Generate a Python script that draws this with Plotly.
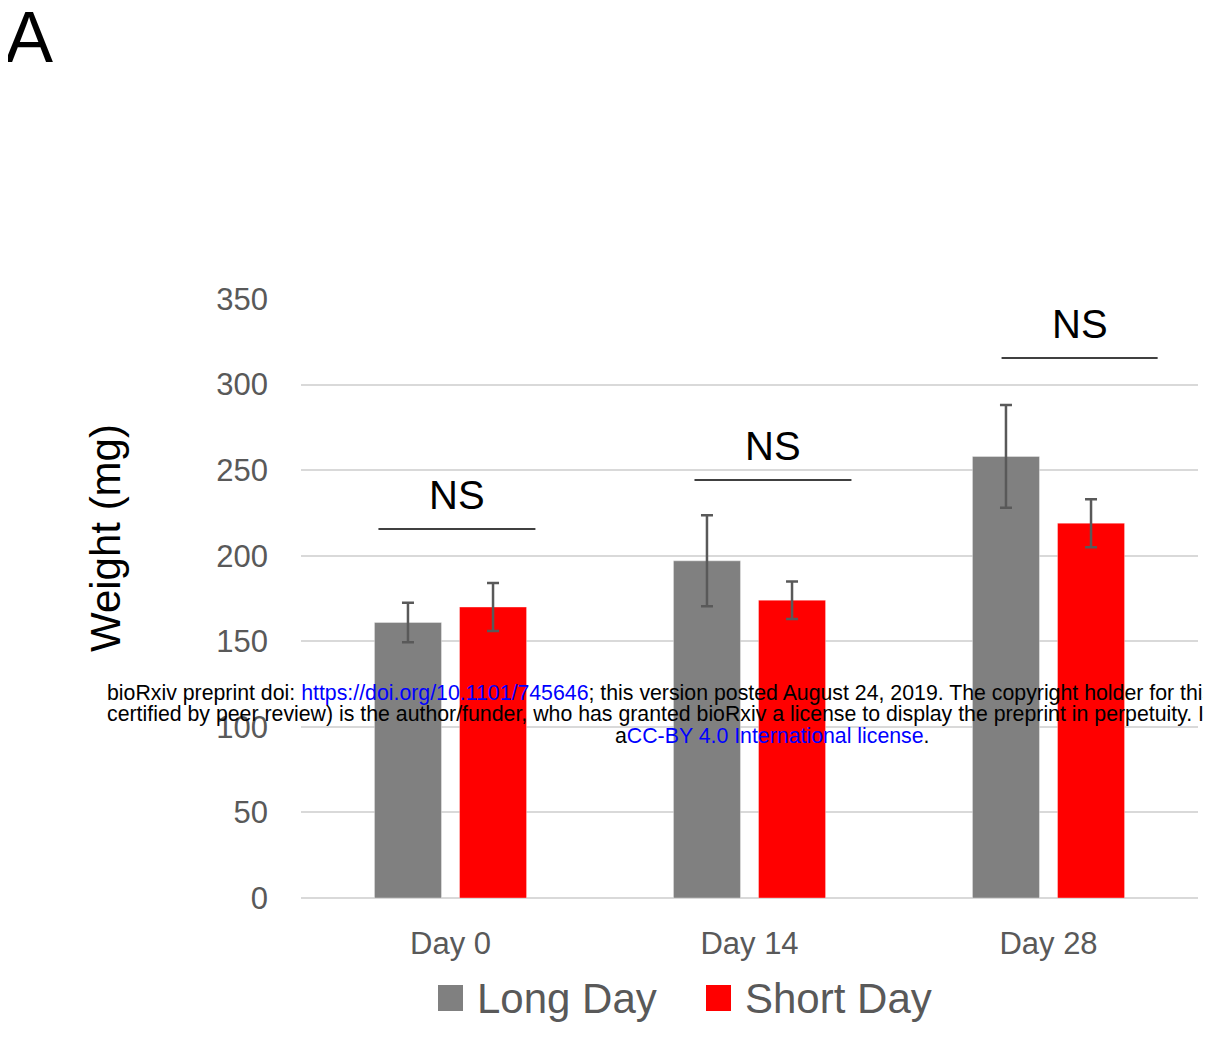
import plotly.graph_objects as go

categories = ["Day 0", "Day 14", "Day 28"]
long_day = [161, 197, 258]
long_day_err = [11.5, 26.6, 30]
short_day = [170, 174, 219]
short_day_err = [14, 11, 14]

# significance markers: (label, line y, x start, x end) in category units
sig_labels = ["NS", "NS", "NS"]
sig_line_y = [215.6, 244.2, 315.5]
sig_x0 = [-0.241, 0.816, 1.843]
sig_x1 = [0.284, 1.341, 2.365]

GRAY = "#808080"
RED = "#FF0000"
TXT = "#595959"
FONT = "Liberation Sans, Arial, sans-serif"

fig = go.Figure()
fig.add_trace(go.Bar(
    x=categories, y=long_day, name="Long Day",
    marker=dict(color=GRAY, line=dict(color="rgba(255,255,255,0.35)", width=1)),
    error_y=dict(type="data", array=long_day_err, visible=True,
                 color=TXT, thickness=2.5, width=6),
    showlegend=False,
))
fig.add_trace(go.Bar(
    x=categories, y=short_day, name="Short Day",
    marker=dict(color=RED, line=dict(color="rgba(255,255,255,0.35)", width=1)),
    error_y=dict(type="data", array=short_day_err, visible=True,
                 color=TXT, thickness=2.5, width=6),
    showlegend=False,
))

shapes = []
annotations = []
for lab, ly, x0, x1 in zip(sig_labels, sig_line_y, sig_x0, sig_x1):
    shapes.append(dict(type="line", xref="x", yref="y", x0=x0, x1=x1, y0=ly, y1=ly,
                       line=dict(color="black", width=1.5)))
    annotations.append(dict(xref="x", yref="y", x=(x0 + x1) / 2, y=ly, yshift=10,
                            text=lab, showarrow=False, xanchor="center", yanchor="bottom",
                            font=dict(family=FONT, size=40, color="black")))

# Page body has an 8px margin: work in window pixels and convert.
OFF = 8
W, H = 1195, 1021
L, T = 301 - OFF, 299 - OFF
R = W - (1198 - OFF)
B = H - (898 - OFF)
pw, ph = W - L - R, H - T - B


def px(xp):
    return (xp - OFF - L) / pw


def py(yp):
    return (H - B - (yp - OFF)) / ph


legend_items = [("Long Day", GRAY, 438), ("Short Day", RED, 706)]
for name, col, x0 in legend_items:
    shapes.append(dict(type="rect", xref="paper", yref="paper",
                       x0=px(x0), x1=px(x0 + 25), y0=py(1011), y1=py(985),
                       fillcolor=col, line=dict(width=0)))
    annotations.append(dict(xref="paper", yref="paper", x=px(x0 + 37), y=py(998),
                            text=name, showarrow=False, xanchor="left", yanchor="middle",
                            font=dict(family=FONT, size=42, color=TXT)))

# Y axis title
annotations.append(dict(xref="paper", yref="paper", x=px(105), y=py(538),
                        text="Weight (mg)", textangle=-90, showarrow=False,
                        xanchor="center", yanchor="middle",
                        font=dict(family=FONT, size=42, color="black")))

# Panel label
annotations.append(dict(xref="paper", yref="paper", x=px(3), y=py(37),
                        text="A", showarrow=False, xanchor="left", yanchor="middle",
                        font=dict(family=FONT, size=72, color="black")))

# bioRxiv watermark
blue = '<span style="color:blue">%s</span>'
wm1 = ("bioRxiv preprint doi: " + blue % "https://doi.org/10.1101/745646"
       + "; this version posted August 24, 2019. The copyright holder for this")
wm2 = ("certified by peer review) is the author/funder, who has granted bioRxiv a license to display "
       "the preprint in perpetuity. It")
wm3 = "a" + blue % "CC-BY 4.0 International license" + "."
for txt, yp, xp, anc in [(wm1, 693, 105, "left"), (wm2, 714, 105, "left"), (wm3, 736, 772, "center")]:
    annotations.append(dict(xref="paper", yref="paper", x=px(xp), y=py(yp),
                            text=txt, showarrow=False, xanchor=anc, yanchor="middle",
                            font=dict(family=FONT, size=21.3, color="black")))

fig.update_layout(
    width=W, height=H,
    margin=dict(l=L, r=R, t=T, b=B, pad=0),
    paper_bgcolor="white", plot_bgcolor="white",
    barmode="group", bargap=0.431, bargroupgap=0.212,
    shapes=shapes, annotations=annotations,
    font=dict(family=FONT),
    showlegend=False,
)
fig.update_xaxes(
    showgrid=False, showline=False, ticks="",
    tickfont=dict(family=FONT, size=31, color=TXT),
    ticklabelstandoff=24,
)
fig.update_yaxes(
    range=[0, 350], dtick=50, showgrid=True, gridcolor="#d9d9d9", gridwidth=1.5,
    zeroline=True, zerolinecolor="#d9d9d9", zerolinewidth=2,
    showline=False, ticks="",
    tickfont=dict(family=FONT, size=31, color=TXT),
    ticklabelstandoff=32,
)

fig.write_html("out.html")
